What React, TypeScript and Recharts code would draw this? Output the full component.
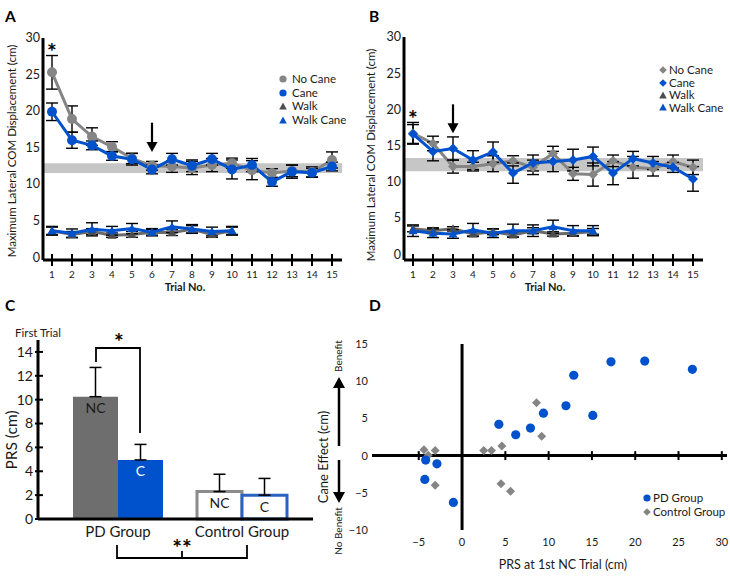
import React from "react";
import {
  ComposedChart, Line, XAxis, YAxis, ErrorBar, ReferenceArea, ReferenceLine, ReferenceDot, Legend,
  BarChart, Bar, Cell, LabelList, ScatterChart, Scatter,
} from "recharts";

const FONT = "Lato, 'Open Sans', sans-serif";
const BLUE = "#0052cc";
const GRAY = "#858585";
const DARK = "#4d4d4d";
const INK = "#1a1a1a";

// trial numbers
const trials = [1, 2, 3, 4, 5, 6, 7, 8, 9, 10, 11, 12, 13, 14, 15];
const walkTrials = [1, 2, 3, 4, 5, 6, 7, 8, 9, 10];

// panel A - PD group (cm, mean and SE)
const aNoCane = [25.3, 18.9, 16.5, 15.1, 13.5, 12.5, 12.4, 12.2, 12.6, 12.85, 11.9, 11.5, 11.8, 11.65, 13.3];
const aNoCaneErr = [2.3, 1.8, 1.2, 0.7, 0.7, 0.6, 0.8, 0.9, 0.9, 0.7, 1.3, 0.6, 0.8, 0.7, 1.1];
const aCane = [19.9, 16.0, 15.3, 13.85, 13.4, 12.0, 13.4, 12.5, 13.4, 12.0, 12.6, 10.3, 11.7, 11.55, 12.4];
const aCaneErr = [1.2, 1.1, 0.6, 0.6, 0.8, 0.6, 0.8, 0.8, 0.8, 1.3, 0.9, 0.6, 0.9, 0.6, 0.6];
const aWalk = [3.6, 3.1, 3.5, 3.0, 3.1, 3.4, 3.35, 3.8, 3.1, 3.6];
const aWalkErr = [0.5, 0.4, 0.4, 0.3, 0.4, 0.4, 0.4, 0.5, 0.4, 0.5];
const aWalkCane = [3.6, 3.25, 3.8, 3.6, 3.9, 3.4, 4.15, 3.85, 3.5, 3.6];
const aWalkCaneErr = [0.6, 0.6, 0.9, 0.6, 0.7, 0.5, 0.8, 0.6, 0.6, 0.6];
const aBand = [11.5, 12.85];
const aArrow = [6, 18.4, 14.4];
const aStar = [1, 28.8];

// panel B - control group
const bNoCane = [16.7, 15.3, 12.1, 12.1, 12.5, 12.9, 12.0, 13.9, 11.1, 11.0, 12.9, 12.0, 11.8, 12.8, 12.0];
const bNoCaneErr = [1.5, 1.0, 0.9, 0.6, 1.1, 0.7, 1.0, 1.0, 0.9, 1.6, 0.8, 1.5, 1.0, 0.9, 1.0];
const bCane = [16.6, 14.2, 14.6, 13.0, 14.1, 11.2, 12.6, 12.8, 13.0, 13.5, 11.2, 13.2, 12.6, 12.0, 10.4];
const bCaneErr = [1.3, 1.3, 1.6, 1.3, 1.4, 1.4, 1.1, 1.4, 1.5, 1.3, 1.6, 1.0, 0.9, 0.7, 1.7];
const bWalk = [3.5, 3.25, 3.5, 2.8, 3.1, 2.65, 3.25, 2.8, 2.9, 3.15];
const bWalkErr = [0.4, 0.4, 0.3, 0.3, 0.4, 0.3, 0.4, 0.3, 0.4, 0.4];
const bWalkCane = [3.25, 2.9, 2.8, 3.35, 2.9, 3.25, 3.25, 3.8, 3.25, 3.25];
const bWalkCaneErr = [0.8, 0.6, 0.6, 0.9, 0.6, 0.9, 0.8, 0.9, 0.7, 0.7];
const bBand = [11.45, 13.3];
const bArrow = [3, 20.7, 16.7];
const bStar = [1, 19.4];

// panel C - PRS on first trial
const cGroups = ["PD Group", "Control Group"];
const cNoCane = [10.25, 2.3];
const cNoCaneErr = [2.45, 1.45];
const cCane = [4.95, 2.0];
const cCaneErr = [1.3, 1.4];
const cTicks = [0, 2, 4, 6, 8, 10, 12, 14];

// panel D - cane effect vs PRS at first NC trial
const pdX = [-4.2, -2.9, -4.3, -1.0, 4.25, 6.2, 7.9, 9.4, 12.0, 12.9, 15.1, 17.2, 21.1, 26.6];
const pdY = [-0.6, -1.1, -3.2, -6.3, 4.2, 2.8, 3.7, 5.7, 6.7, 10.8, 5.4, 12.6, 12.7, 11.6];
const ctrlX = [-4.4, -3.9, -3.1, -3.1, 2.5, 3.4, 4.6, 4.5, 5.6, 8.6, 9.2];
const ctrlY = [0.8, 0.05, 0.7, -4.0, 0.7, 0.7, 1.3, -3.8, -4.8, 7.1, 2.6];
const dTicksX = [-5, 0, 5, 10, 15, 20, 25, 30];
const dTicksY = [-10, -5, 0, 5, 10, 15];

const mainRows = (nc: number[], ncE: number[], c: number[], cE: number[]) =>
  trials.map((t, i) => ({ trial: t, noCane: nc[i], noCaneErr: ncE[i], cane: c[i], caneErr: cE[i] }));
const walkRows = (w: number[], wE: number[], wc: number[], wcE: number[]) =>
  walkTrials.map((t, i) => ({ trial: t, walk: w[i], walkErr: wE[i], walkCane: wc[i], walkCaneErr: wcE[i] }));

const minus = (v: number) => (v < 0 ? `\u2212${Math.abs(v)}` : `${v}`);

function shapeDot(shape: string, color: string) {
  return (p: any) => {
    const { cx, cy, index } = p;
    if (cx == null || cy == null) return <g key={`n${index}`} />;
    if (shape === "circle") return <circle key={`d${index}`} cx={cx} cy={cy} r={5} fill={color} />;
    if (shape === "diamond")
      return <path key={`d${index}`} d={`M${cx},${cy - 5}L${cx + 5},${cy}L${cx},${cy + 5}L${cx - 5},${cy}Z`} fill={color} />;
    return <path key={`d${index}`} d={`M${cx},${cy - 4.5}L${cx + 4.5},${cy + 3.5}L${cx - 4.5},${cy + 3.5}Z`} fill={color} />;
  };
}

function MarkerIcon({ shape, color }: { shape: string; color: string }) {
  return (
    <svg width={8} height={8} style={{ display: "block" }}>
      {shape === "circle" && <circle cx={4} cy={4} r={3.6} fill={color} />}
      {shape === "diamond" && <path d="M4,0.2L7.8,4L4,7.8L0.2,4Z" fill={color} />}
      {shape === "triangle" && <path d="M4,0.5L7.8,7.5L0.2,7.5Z" fill={color} />}
    </svg>
  );
}

function KeyList({ items, rowH, gap }: any) {
  return (
    <div style={{ fontFamily: FONT, fontSize: 11.5, color: INK }}>
      {items.map((it: any) => (
        <div key={it.label} style={{ display: "flex", alignItems: "center", height: rowH, whiteSpace: "nowrap" }}>
          <MarkerIcon shape={it.shape} color={it.color} />
          <span style={{ marginLeft: gap, lineHeight: 1 }}>{it.label}</span>
        </div>
      ))}
    </div>
  );
}

const AB_AXIS_Y = 260;

function TrialTick(p: any) {
  return (
    <g>
      <line x1={p.x} x2={p.x} y1={AB_AXIS_Y - 6} y2={AB_AXIS_Y + 6} stroke="#000" strokeWidth={2} />
      <text x={p.x} y={AB_AXIS_Y + 11} dy="0.71em" textAnchor="middle" fontSize={10} fill={INK}>
        {p.payload.value}
      </text>
    </g>
  );
}

function arrowShape(p: any) {
  const { x1, y1, x2, y2 } = p;
  return (
    <g>
      <line x1={x1} y1={y1} x2={x2} y2={y2 - 9} stroke="#000" strokeWidth={2.2} />
      <path d={`M${x2 - 5.5},${y2 - 10}L${x2 + 5.5},${y2 - 10}L${x2},${y2}Z`} fill="#000" />
    </g>
  );
}

function starShape(p: any) {
  return (
    <text x={p.cx} y={p.cy + 13} textAnchor="middle" fontSize={23} fontWeight="bold" fill="#000">*</text>
  );
}

function TrialPanel(props: any) {
  const { main, walk, band, arrow, star, shape, yWidth, top, right, yDomain, legend, legendPos } = props;
  const axis = { stroke: "#000", strokeWidth: 3 };
  return (
    <ComposedChart width={365} height={300} margin={{ top, right, left: 0, bottom: 0 }}>
      <XAxis
        type="number" dataKey="trial" domain={[0.55, 15.5]} ticks={trials} height={40}
        axisLine={axis} tickLine={false} tick={(p: any) => <TrialTick {...p} />} interval={0}
      />
      <YAxis
        type="number" domain={yDomain} ticks={[0, 5, 10, 15, 20, 25, 30]} width={yWidth}
        axisLine={axis} tickLine={false} tickSize={0} tickMargin={3} tick={{ fontSize: 12.5, fill: INK }}
      />
      <ReferenceArea y1={band[0]} y2={band[1]} fill="#c6c6c6" fillOpacity={1} stroke="none" />
      <Line data={main} dataKey="noCane" stroke={GRAY} strokeWidth={3} dot={shapeDot(shape, GRAY)} activeDot={false} isAnimationActive={false}>
        <ErrorBar dataKey="noCaneErr" direction="y" width={6} stroke="#000" strokeWidth={1.4} isAnimationActive={false} />
      </Line>
      <Line data={main} dataKey="cane" stroke={BLUE} strokeWidth={3} dot={shapeDot(shape, BLUE)} activeDot={false} isAnimationActive={false}>
        <ErrorBar dataKey="caneErr" direction="y" width={6} stroke="#000" strokeWidth={1.4} isAnimationActive={false} />
      </Line>
      <Line data={walk} dataKey="walk" stroke="#6a6a6a" strokeWidth={3} dot={shapeDot("triangle", DARK)} activeDot={false} isAnimationActive={false}>
        <ErrorBar dataKey="walkErr" direction="y" width={6} stroke="#000" strokeWidth={1.4} isAnimationActive={false} />
      </Line>
      <Line data={walk} dataKey="walkCane" stroke={BLUE} strokeWidth={3} dot={shapeDot("triangle", BLUE)} activeDot={false} isAnimationActive={false}>
        <ErrorBar dataKey="walkCaneErr" direction="y" width={6} stroke="#000" strokeWidth={1.4} isAnimationActive={false} />
      </Line>
      <ReferenceLine segment={[{ x: arrow[0], y: arrow[1] }, { x: arrow[0], y: arrow[2] }]} shape={arrowShape} />
      <ReferenceDot x={star[0]} y={star[1]} r={0} shape={starShape} />
      <Legend
        layout="horizontal" verticalAlign="middle" align="center"
        wrapperStyle={{ left: legendPos.left, top: legendPos.top, width: 100 }}
        content={() => <KeyList items={legend} rowH={legendPos.rowH} gap={legendPos.gap} />}
      />
    </ComposedChart>
  );
}

const C_AXIS_X = 38;

function PrsTick(p: any) {
  return (
    <g>
      <line x1={C_AXIS_X - 3} x2={C_AXIS_X + 5} y1={p.y} y2={p.y} stroke="#000" strokeWidth={2} />
      <text x={C_AXIS_X - 5} y={p.y} dy="0.35em" textAnchor="end" fontSize={14} fill={INK}>{p.payload.value}</text>
    </g>
  );
}

function barLabel(text: string, colors: string[]) {
  return (p: any) => (
    <text x={p.x + p.width / 2} y={p.y + 11.5} dy="0.35em" textAnchor="middle" fontSize={14} fill={colors[p.index]}>
      {text}
    </text>
  );
}

export default function App() {
  const aMain = mainRows(aNoCane, aNoCaneErr, aCane, aCaneErr);
  const aW = walkRows(aWalk, aWalkErr, aWalkCane, aWalkCaneErr);
  const bMain = mainRows(bNoCane, bNoCaneErr, bCane, bCaneErr);
  const bW = walkRows(bWalk, bWalkErr, bWalkCane, bWalkCaneErr);
  const cRows = cGroups.map((g, i) => ({
    group: g, nc: cNoCane[i], ncErr: [0, cNoCaneErr[i]], c: cCane[i], cErr: [0, cCaneErr[i]],
  }));
  const pdPts = pdX.map((x, i) => ({ x, y: pdY[i] }));
  const ctrlPts = ctrlX.map((x, i) => ({ x, y: ctrlY[i] }));

  const legendA = [
    { label: "No Cane", shape: "circle", color: GRAY },
    { label: "Cane", shape: "circle", color: BLUE },
    { label: "Walk", shape: "triangle", color: DARK },
    { label: "Walk Cane", shape: "triangle", color: BLUE },
  ];
  const legendB = [
    { label: "No Cane", shape: "diamond", color: GRAY },
    { label: "Cane", shape: "diamond", color: BLUE },
    { label: "Walk", shape: "triangle", color: DARK },
    { label: "Walk Cane", shape: "triangle", color: BLUE },
  ];
  const legendD = [
    { label: "PD Group", shape: "circle", color: BLUE },
    { label: "Control Group", shape: "diamond", color: GRAY },
  ];
  const axis = { stroke: "#000", strokeWidth: 3 };

  return (
    <div style={{ position: "absolute", left: 0, top: 0, width: 730, height: 577, background: "#fff", fontFamily: FONT, overflow: "hidden" }}>
      <div style={{ position: "absolute", left: 0, top: 0 }}>
        <TrialPanel
          main={aMain} walk={aW} band={aBand} arrow={aArrow} star={aStar} shape="circle"
          yWidth={43} top={38} right={23} yDomain={[-0.4, 30]} legend={legendA}
          legendPos={{ left: 279, top: 72, rowH: 13.7, gap: 5 }}
        />
      </div>
      <div style={{ position: "absolute", left: 365, top: 0 }}>
        <TrialPanel
          main={bMain} walk={bW} band={bBand} arrow={bArrow} star={bStar} shape="diamond"
          yWidth={39} top={37} right={27} yDomain={[-0.8, 30]} legend={legendB}
          legendPos={{ left: 294, top: 64, rowH: 12.4, gap: 2 }}
        />
      </div>
      <div style={{ position: "absolute", left: 0, top: 300 }}>
        <BarChart width={365} height={277} data={cRows} margin={{ top: 40, right: 52, left: 0, bottom: 28 }} barGap={0} barSize={45}>
          <XAxis
            dataKey="group" height={30} padding={{ left: 18, right: 9 }} axisLine={axis}
            tickLine={false} tickSize={0} tickMargin={7} tick={{ fontSize: 15, fill: INK }}
          />
          <YAxis
            type="number" domain={[0, 15]} ticks={cTicks} width={38} axisLine={axis}
            tickLine={false} tick={(p: any) => <PrsTick {...p} />}
          />
          <Bar dataKey="nc" isAnimationActive={false}>
            <Cell fill="#6e6e6e" />
            <Cell fill="#ffffff" stroke="#8c8c8c" strokeWidth={3} />
            <ErrorBar dataKey="ncErr" direction="y" width={6} stroke="#000" strokeWidth={1.5} isAnimationActive={false} />
            <LabelList content={barLabel("NC", [INK, INK])} />
          </Bar>
          <Bar dataKey="c" isAnimationActive={false}>
            <Cell fill={BLUE} />
            <Cell fill="#ffffff" stroke="#2a62c4" strokeWidth={3} />
            <ErrorBar dataKey="cErr" direction="y" width={6} stroke="#000" strokeWidth={1.5} isAnimationActive={false} />
            <LabelList content={barLabel("C", ["#ffffff", INK])} />
          </Bar>
        </BarChart>
      </div>
      <div style={{ position: "absolute", left: 300, top: 300 }}>
        <ScatterChart width={430} height={277} margin={{ top: 44, right: 3, left: 0, bottom: 27 }}>
          <XAxis
            type="number" dataKey="x" domain={[-10.4, 30.6]} ticks={dTicksX} height={20}
            axisLine={false} tickLine={false} tickSize={0} tickMargin={8}
            tick={{ fontSize: 11, fill: INK }} tickFormatter={minus}
          />
          <YAxis
            type="number" dataKey="y" domain={[-10, 15]} ticks={dTicksY} width={72}
            axisLine={false} tickLine={false} tickSize={0} tickMargin={4}
            tick={{ fontSize: 11, fill: INK }} tickFormatter={minus}
          />
          <ReferenceLine x={0} stroke="#000" strokeWidth={3} />
          <ReferenceLine y={0} stroke="#000" strokeWidth={3} />
          {dTicksX.filter((t) => t !== 0).map((t) => (
            <ReferenceLine key={t} segment={[{ x: t, y: -0.6 }, { x: t, y: 0.6 }]} stroke="#000" strokeWidth={2} />
          ))}
          <Scatter
            data={ctrlPts} isAnimationActive={false}
            shape={(p: any) => <path d={`M${p.cx},${p.cy - 4.5}L${p.cx + 4.5},${p.cy}L${p.cx},${p.cy + 4.5}L${p.cx - 4.5},${p.cy}Z`} fill={GRAY} />}
          />
          <Scatter
            data={pdPts} isAnimationActive={false}
            shape={(p: any) => <circle cx={p.cx} cy={p.cy} r={4.6} fill={BLUE} />}
          />
          <Legend
            layout="horizontal" verticalAlign="middle" align="center"
            wrapperStyle={{ left: 343, top: 191, width: 90 }}
            content={() => <KeyList items={legendD} rowH={14} gap={2} />}
          />
        </ScatterChart>
      </div>
      <svg width={730} height={577} style={{ position: "absolute", left: 0, top: 0, pointerEvents: "none" }} fontFamily={FONT} fill={INK}>
        <text x={5} y={22} fontSize={15.5} fontWeight="bold" fill="#000">A</text>
        <text x={369} y={22} fontSize={15.5} fontWeight="bold" fill="#000">B</text>
        <text x={5} y={311} fontSize={15.5} fontWeight="bold" fill="#000">C</text>
        <text x={369} y={311} fontSize={15.5} fontWeight="bold" fill="#000">D</text>

        <text transform="translate(12,151) rotate(-90)" textAnchor="middle" dy="0.35em" fontSize={11.5}>
          Maximum Lateral COM Displacement (cm)
        </text>
        <text transform="translate(371,155) rotate(-90)" textAnchor="middle" dy="0.35em" fontSize={11.5}>
          Maximum Lateral COM Displacement (cm)
        </text>
        <text x={185} y={291} textAnchor="middle" fontSize={11} fontWeight="bold">Trial No.</text>
        <text x={545} y={291} textAnchor="middle" fontSize={11} fontWeight="bold">Trial No.</text>

        <text x={15} y={337} fontSize={11.5}>First Trial</text>
        <text transform="translate(12,440) rotate(-90)" textAnchor="middle" dy="0.35em" fontSize={15.5}>PRS (cm)</text>
        <path d="M96,362 V348 H140 V433" fill="none" stroke="#000" strokeWidth={1.8} />
        <text x={119} y={350} textAnchor="middle" fontSize={23} fontWeight="bold" fill="#000">*</text>
        <path d="M117,545 V558 H247 V545 M182,551 V558" fill="none" stroke="#000" strokeWidth={1.8} />
        <text x={182} y={556} textAnchor="middle" fontSize={23} fontWeight="bold" fill="#000">**</text>

        <text transform="translate(323,457) rotate(-90)" textAnchor="middle" dy="0.35em" fontSize={13}>Cane Effect (cm)</text>
        <text transform="translate(338,356) rotate(-90)" textAnchor="middle" dy="0.35em" fontSize={10}>Benefit</text>
        <text transform="translate(338,531) rotate(-90)" textAnchor="middle" dy="0.35em" fontSize={10}>No Benefit</text>
        <path d="M339,446 V387 M339,460 V493" stroke="#000" strokeWidth={2.5} />
        <path d="M333,388 L345,388 L339,377 Z M333,492 L345,492 L339,503 Z" fill="#000" />
        <text x={563} y={569} textAnchor="middle" fontSize={12.5}>PRS at 1st NC Trial (cm)</text>
      </svg>
    </div>
  );
}
